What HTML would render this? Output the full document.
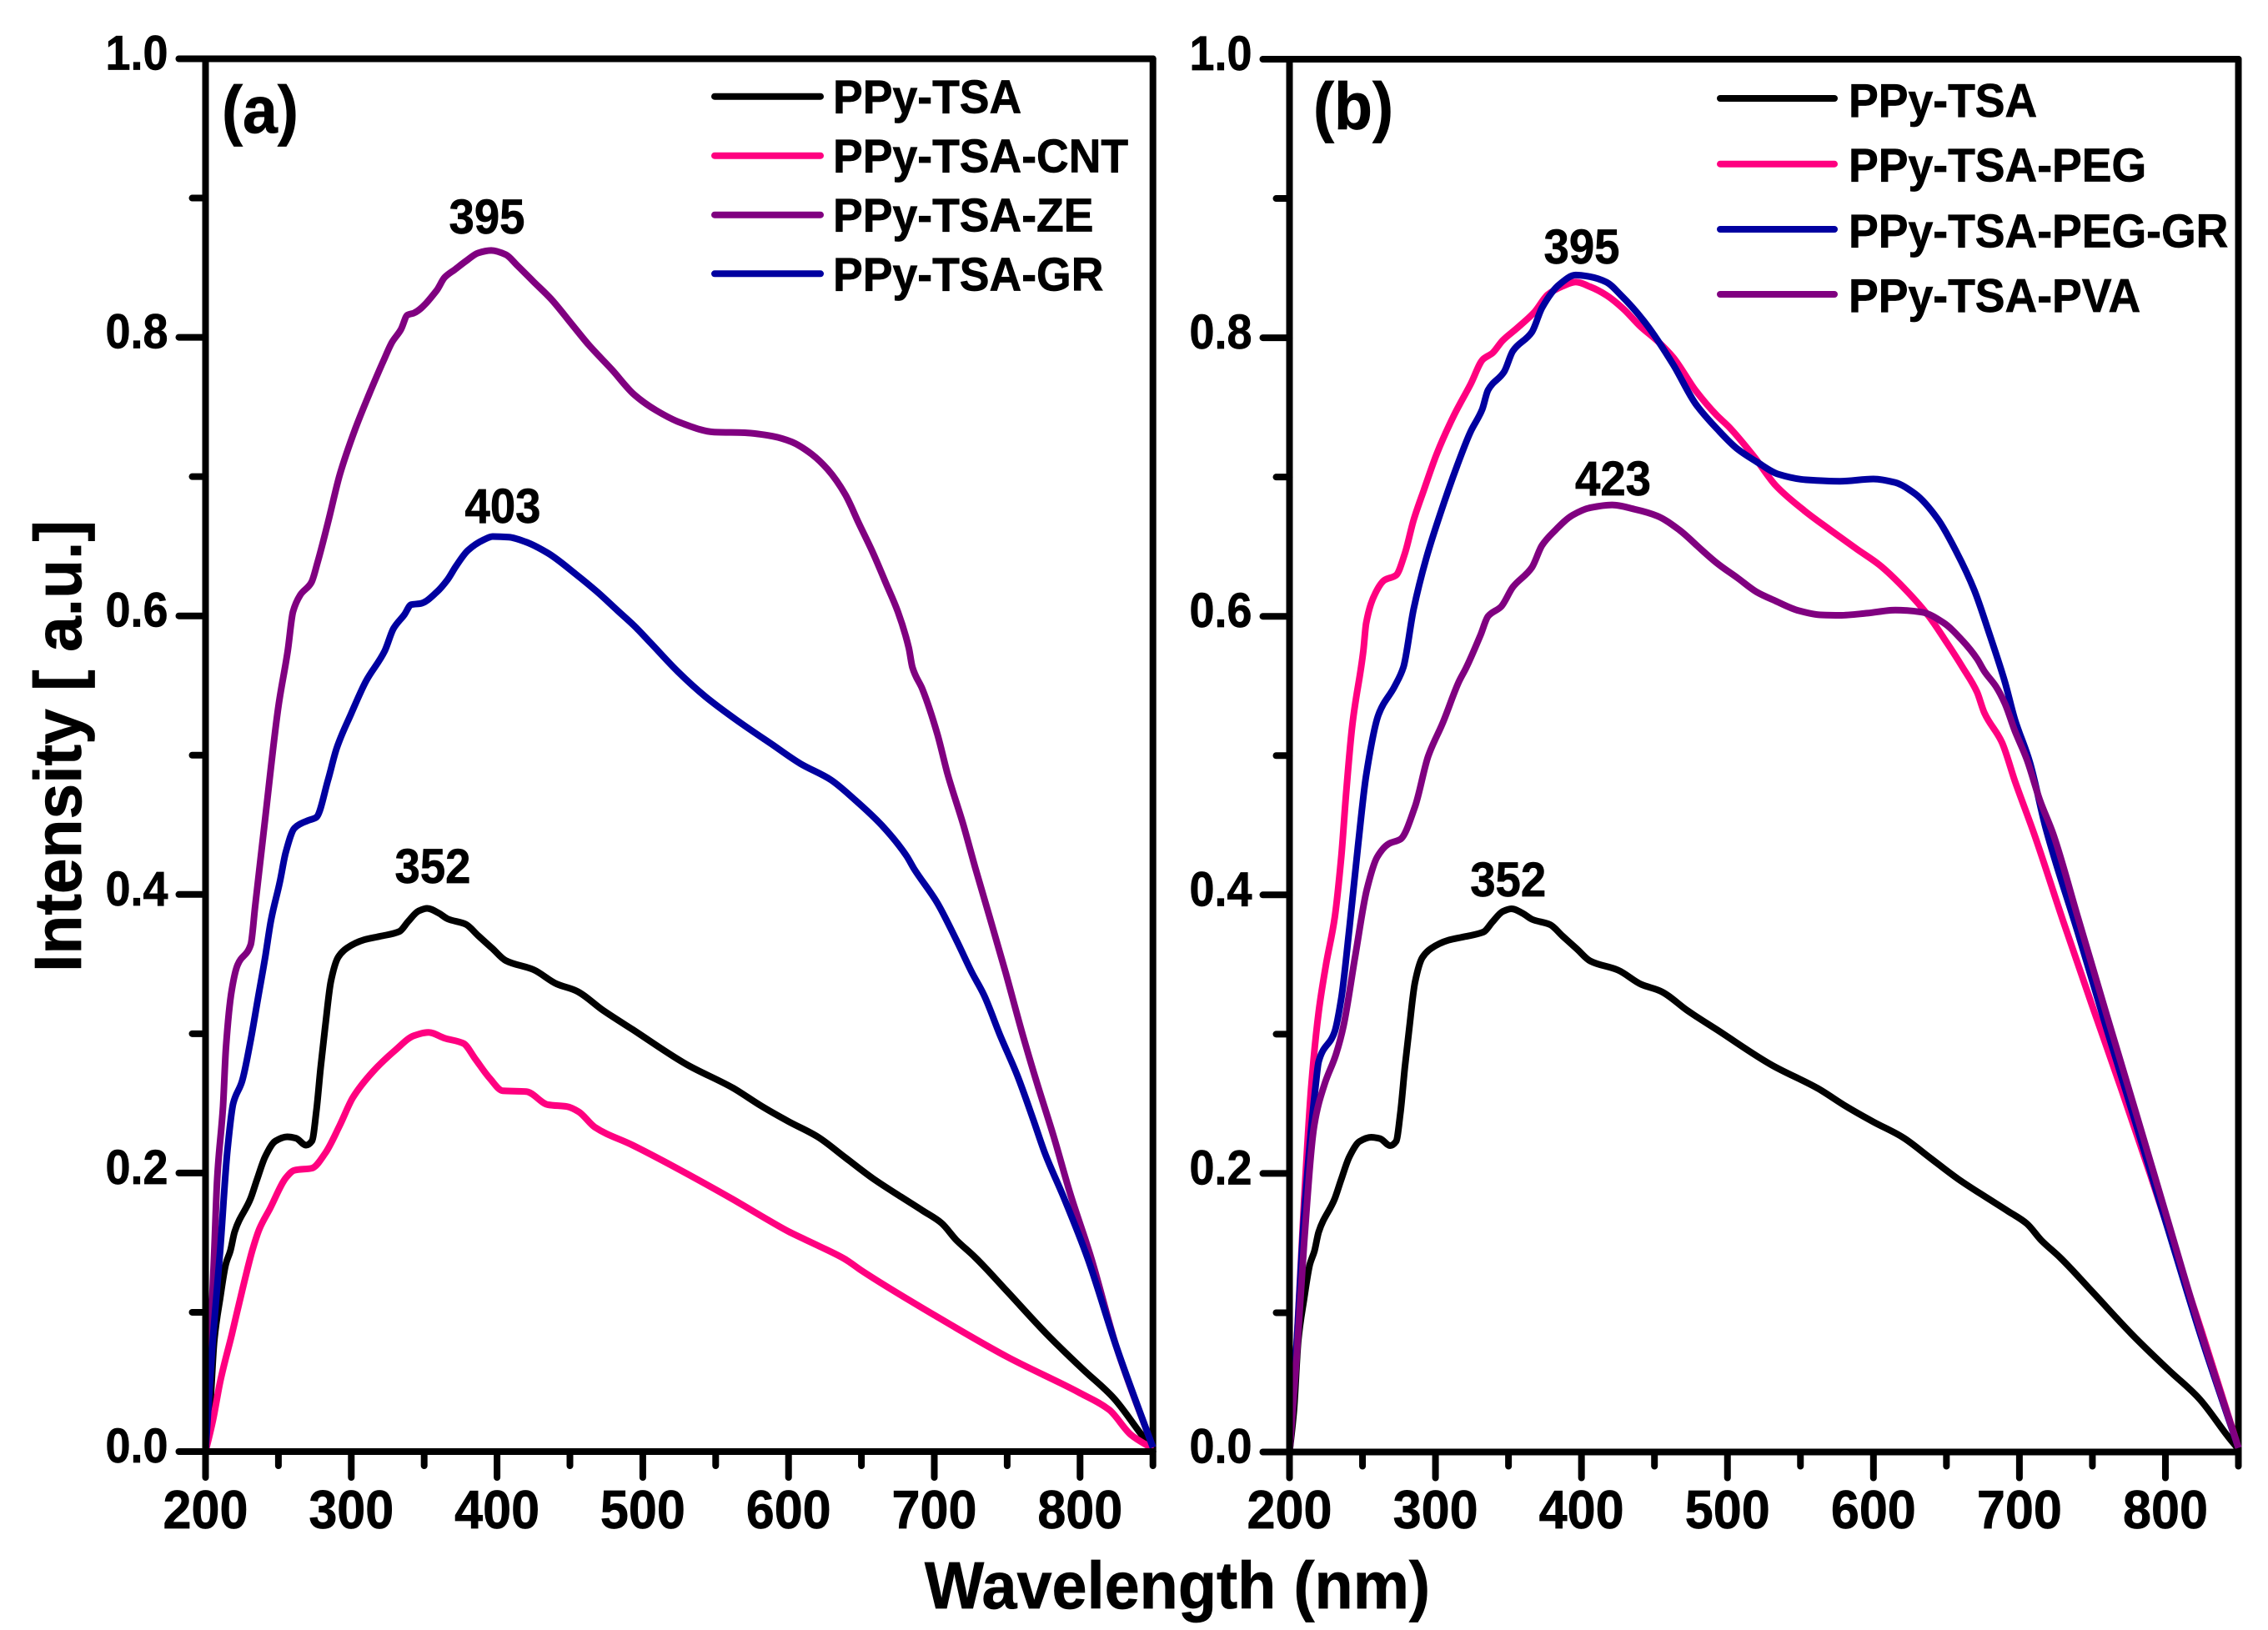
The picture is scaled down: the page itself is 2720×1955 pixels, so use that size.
<!DOCTYPE html>
<html lang="en">
<head>
<meta charset="utf-8">
<title>PPy-TSA intensity spectra</title>
<style>
html,body{margin:0;padding:0;background:#fff;}
svg{display:block;}
text{font-family:"Liberation Sans",Arial,sans-serif;font-weight:bold;fill:#000;stroke:#000;stroke-width:0.7px;}
</style>
</head>
<body>
<svg id="chart" xmlns="http://www.w3.org/2000/svg" width="2720" height="1955" viewBox="0 0 2720 1955"></svg>
<script>
const xTickValues = [200,300,400,500,600,700,800];
const xMinorValues = [250,350,450,550,650,750,850];
const yTickValues = [0.0,0.2,0.4,0.6,0.8,1.0];
const yMinorValues = [0.1,0.3,0.5,0.7,0.9];

const tsaX = [200,203,206,210,214,217,220,231,235.5,241,248,256,262,269,273,276,279,282,286,291,297,309,320,333,339,346,352,360,366,378.5,387,397,406,425,441,454,473,493,530,562,581.5,600,620,639,658,677,692,705,715,728,750,777,802,823,843,850];
const tsaY = [0,.03,.08,.11,.135,.144,.158,.182,.196,.212,.223,.226,.225,.22,.223,.244,.276,.304,.3375,.355,.3615,.3675,.37,.3734,.3806,.388,.39,.3866,.3825,.3786,.3705,.361,.3525,.346,.3357,.331,.3166,.303,.278,.261,.248,.237,.226,.211,.196,.183,.173,.164,.152,.1395,.115,.0845,.059,.0385,.011,.002];

const cntX = [200,205,210,218,225,232,237,244,255.5,261,273,282,292,301,315,330,343,353,364,377,385,395,404,420,435,448,456,467,493,562,581.5,600,620,639,650,700,750,800,820,835,850];
const cntY = [0,.022,.05,.084,.115,.144,.16,.174,.197,.202,.2035,.214,.234,.254,.273,.288,.2986,.301,.2968,.293,.282,.268,.259,.2585,.249,.2477,.244,.233,.22,.181,.169,.158,.148,.138,.13,.098,.068,.042,.03,.012,.002];

const zeX = [200,203,206,208,212,214,218,222,231,234,241,250,256.4,260,265,272.6,277,284,292,303,313,322,328,334,338.5,343,358.5,364,371,379,387,396,406,414,425,437,452,463,479,494,509,526,549,570,589,602,616,627,639,648,658,667,675,682.5,685,692,702,709,720,728,738,749,761,770,782,793,807.5,825,850];
const zeY = [0,.07,.144,.196,.248,.29,.3315,.3495,.364,.391,.4554,.535,.575,.603,.615,.624,.639,.667,.701,.735,.761,.783,.7965,.8055,.816,.8175,.8336,.843,.8486,.855,.8606,.8624,.8594,.8515,.84,.8276,.8085,.7945,.7766,.759,.7477,.7387,.732,.7315,.729,.725,.716,.705,.687,.667,.645,.623,.603,.577,.563,.547,.5155,.487,.4496,.4196,.3837,.3436,.298,.266,.226,.186,.1395,.075,.003];

const grX = [200,205,210,215,219,225,231,236,241,245,251,255,261,270,276,284,290,300,310,323,329,336.5,341,348,358.5,366,372,380,391,397,408,420,435,454,469,482.5,494,505,524,543,564,589,608,629,646,664,681,686,702,715,726,734,745.5,757,768,776,789,805,825,850];
const grY = [0,.08,.144,.216,.25,.2657,.2956,.3255,.3555,.382,.409,.43,.4476,.453,.4554,.482,.505,.53,.553,.575,.591,.601,.608,.609,.617,.626,.636,.647,.6547,.657,.6565,.653,.645,.63,.617,.604,.593,.581,.56,.542,.5255,.5075,.494,.4823,.4675,.4496,.4276,.4186,.394,.3676,.3436,.328,.298,.27,.238,.214,.182,.1395,.075,.003];

const pegX = [200,205,210,215,220,225,231,235.5,239,243,250.6,252.5,259,265,273,279,285,292,301,312.5,324,332.5,339,346,356,368,377,387,396,406,417,429,440,452,463,478,492.5,501,518,533,552.5,570,589,604,623,638,650,661,671,676,688,697,710,730,750,770,790,810,825,850];
const pegY = [0,.08,.18,.264,.316,.35,.384,.428,.4757,.5217,.5755,.595,.617,.626,.6295,.645,.669,.6906,.717,.744,.7666,.7845,.789,.798,.807,.8187,.831,.837,.84,.8366,.8306,.8205,.8085,.7977,.7857,.7624,.7445,.736,.715,.694,.676,.6623,.648,.637,.618,.6,.5815,.5635,.5455,.5306,.5095,.4815,.444,.381,.32,.26,.198,.134,.086,.003];

const peggrX = [200,205,210,218,220,231,235.5,241,247,252.5,261,272,278,285,293.5,303,315,324,332,336,347,353,366,373,385,396,406,417,427,444,463,478,492.5,507,520,535,554,577,600,615,628.5,644,657,669,680,690,697,707,718,740,760,780,800,825,850];
const peggrY = [0,.08,.17,.264,.2804,.302,.326,.376,.436,.4857,.5295,.5497,.5635,.605,.641,.6727,.7086,.7325,.7486,.7624,.7756,.7905,.804,.8216,.8384,.845,.8438,.84,.8306,.8103,.7804,.7528,.735,.72,.711,.702,.698,.697,.6986,.696,.688,.67,.646,.619,.5855,.553,.5256,.4957,.448,.373,.303,.235,.166,.081,.003];

const pvaX = [200,205,210,217,224,232,237,245,253,260,268,276,286,295,305,316,321,331,336,345,353,366,373,381,394,406,421,436,452,467,482,493,507,520,533,549,564,577,596,615,633,648,661,671,676,684,690,697,705,714,723,740,760,780,800,825,850];
const pvaY = [0,.07,.15,.235,.264,.286,.306,.356,.404,.427,.4367,.44,.4635,.4995,.5235,.553,.563,.587,.6,.607,.621,.635,.651,.6607,.6727,.678,.68,.677,.672,.662,.648,.638,.6275,.6175,.611,.604,.601,.6007,.6023,.6045,.603,.5954,.5825,.5695,.5605,.5495,.5375,.5175,.4975,.468,.444,.384,.313,.243,.172,.084,.003];

const legendNamesA = ["PPy-TSA","PPy-TSA-CNT","PPy-TSA-ZE","PPy-TSA-GR"];
const legendNamesB = ["PPy-TSA","PPy-TSA-PEG","PPy-TSA-PEG-GR","PPy-TSA-PVA"];
const peakLabelsA = ["395","403","352"];
const peakLabelsB = ["395","423","352"];

const BLACK = "#000000", PINK = "#ff0080", PURPLE = "#800080", BLUE = "#0000a0";
const panelA = {x0:246.5, x1:1382.7, y0:1741, y1:70.5};
const panelB = {x0:1546.5, x1:2684.5, y0:1741.5, y1:71};
const NS = "http://www.w3.org/2000/svg";
const svg = document.getElementById("chart");

function sx(p, nm){ return p.x0 + (nm - 200) * (p.x1 - p.x0) / 650; }
function sy(p, v){ return p.y0 - v * (p.y0 - p.y1); }

function line(name, x1, y1, x2, y2, color, w){
  const el = document.createElementNS(NS, "line");
  
  
  el.setAttribute("x1", x1); el.setAttribute("y1", y1);
  el.setAttribute("x2", x2); el.setAttribute("y2", y2);
  el.setAttribute("stroke", color);
  el.setAttribute("stroke-width", w);
  el.setAttribute("stroke-linecap", "round");
  svg.appendChild(el);
}

function label(name, str, x, y, size, anchor, sqz, rot){
  const el = document.createElementNS(NS, "text");
  
  
  el.setAttribute("font-size", size);
  el.setAttribute("text-anchor", anchor);
  el.setAttribute("transform", "translate(" + x + "," + y + ")" + (rot ? " rotate(" + rot + ")" : "") + " scale(" + sqz + ",1)");
  el.textContent = str;
  svg.appendChild(el);
}

/* Monotone cubic path through the scaled data points, so no overshoot at the shoulders. */
function smoothPath(px, py){
  const n = px.length, d = [], m = [];
  for (let i = 0; i < n - 1; i++) d.push((py[i + 1] - py[i]) / (px[i + 1] - px[i]));
  m.push(d[0]);
  for (let i = 1; i < n - 1; i++) {
    if (d[i - 1] * d[i] <= 0) { m.push(0); continue; }
    const h0 = px[i] - px[i - 1], h1 = px[i + 1] - px[i];
    const w1 = 2 * h1 + h0, w2 = h1 + 2 * h0;
    m.push((w1 + w2) / (w1 / d[i - 1] + w2 / d[i]));
  }
  m.push(d[n - 2]);
  let s = "M" + px[0].toFixed(1) + "," + py[0].toFixed(1);
  for (let i = 0; i < n - 1; i++) {
    const h = (px[i + 1] - px[i]) / 3;
    s += "C" + (px[i] + h).toFixed(1) + "," + (py[i] + m[i] * h).toFixed(1) + " " +
         (px[i + 1] - h).toFixed(1) + "," + (py[i + 1] - m[i + 1] * h).toFixed(1) + " " +
         px[i + 1].toFixed(1) + "," + py[i + 1].toFixed(1);
  }
  return s;
}

function curve(name, p, xs, ys, color){
  const el = document.createElementNS(NS, "path");
  
  
  const px = xs.map(function(nm){ return sx(p, nm); });
  const py = ys.map(function(v){ return sy(p, v); });
  el.setAttribute("d", smoothPath(px, py));
  el.setAttribute("fill", "none");
  el.setAttribute("stroke", color);
  el.setAttribute("stroke-width", 8);
  el.setAttribute("stroke-linejoin", "round");
  svg.appendChild(el);
}

function drawAxes(p, tag){
  xTickValues.forEach(function(t){
    line(tag + "-x-major-tick-" + t, sx(p,t), p.y0, sx(p,t), p.y0 + 31, BLACK, 8);
    label(tag + "-x-tick-label-" + t, String(t), sx(p,t), 1833, 65, "middle", 0.94);
  });
  xMinorValues.forEach(function(t){
    line(tag + "-x-minor-tick-" + t, sx(p,t), p.y0, sx(p,t), p.y0 + 17, BLACK, 8);
  });
  yTickValues.forEach(function(t){
    line(tag + "-y-major-tick-" + t.toFixed(1), p.x0 - 32, sy(p,t), p.x0, sy(p,t), BLACK, 8);
    label(tag + "-y-tick-label-" + t.toFixed(1), t.toFixed(1), p.x0 - 45, sy(p,t) + 13, 58, "end", 0.93);
  });
  yMinorValues.forEach(function(t){
    line(tag + "-y-minor-tick-" + t.toFixed(1), p.x0 - 16, sy(p,t), p.x0, sy(p,t), BLACK, 8);
  });
  line(tag + "-axis-top", p.x0, p.y1, p.x1, p.y1, BLACK, 8);
  line(tag + "-axis-right", p.x1, p.y1, p.x1, p.y0, BLACK, 8);
}

function frameOver(p, tag){
  line(tag + "-axis-left", p.x0, p.y1, p.x0, p.y0, BLACK, 8);
  line(tag + "-axis-bottom", p.x0, p.y0, p.x1, p.y0, BLACK, 8);
}

function legendRow(tag, i, str, color, lineX1, lineX2, lineY, textX, textY){
  line(tag + "-legend-line-" + (i + 1), lineX1, lineY, lineX2, lineY, color, 8);
  label(tag + "-legend-label-" + (i + 1), str, textX, textY, 57, "start", 0.94);
}

/* Panel (a) */
drawAxes(panelA, "panel-a");
curve("panel-a-series-ppy-tsa", panelA, tsaX, tsaY, BLACK);
curve("panel-a-series-ppy-tsa-cnt", panelA, cntX, cntY, PINK);
curve("panel-a-series-ppy-tsa-ze", panelA, zeX, zeY, PURPLE);
curve("panel-a-series-ppy-tsa-gr", panelA, grX, grY, BLUE);
frameOver(panelA, "panel-a");
label("panel-a-title", "(a)", 266, 159, 80, "start", 0.94);
legendRow("panel-a", 0, legendNamesA[0], BLACK, 857, 984, 115.7, 999, 135.7);
legendRow("panel-a", 1, legendNamesA[1], PINK, 857, 984, 186.7, 999, 206.7);
legendRow("panel-a", 2, legendNamesA[2], PURPLE, 857, 984, 257.7, 999, 277.7);
legendRow("panel-a", 3, legendNamesA[3], BLUE, 857, 984, 328.3, 999, 348.7);
label("panel-a-peak-label-ze", peakLabelsA[0], 584, 280, 58, "middle", 0.94);
label("panel-a-peak-label-gr", peakLabelsA[1], 603, 627, 58, "middle", 0.94);
label("panel-a-peak-label-tsa", peakLabelsA[2], 519, 1059, 58, "middle", 0.94);

/* Panel (b) */
drawAxes(panelB, "panel-b");
curve("panel-b-series-ppy-tsa", panelB, tsaX, tsaY, BLACK);
curve("panel-b-series-ppy-tsa-peg", panelB, pegX, pegY, PINK);
curve("panel-b-series-ppy-tsa-peg-gr", panelB, peggrX, peggrY, BLUE);
curve("panel-b-series-ppy-tsa-pva", panelB, pvaX, pvaY, PURPLE);
frameOver(panelB, "panel-b");
label("panel-b-title", "(b)", 1575, 155, 80, "start", 0.94);
legendRow("panel-b", 0, legendNamesB[0], BLACK, 2063, 2200, 118, 2217, 140);
legendRow("panel-b", 1, legendNamesB[1], PINK, 2063, 2200, 196.7, 2217, 217.7);
legendRow("panel-b", 2, legendNamesB[2], BLUE, 2063, 2200, 275, 2217, 296.7);
legendRow("panel-b", 3, legendNamesB[3], PURPLE, 2063, 2200, 353, 2217, 374);
label("panel-b-peak-label-peg", peakLabelsB[0], 1897, 316, 58, "middle", 0.94);
label("panel-b-peak-label-pva", peakLabelsB[1], 1934.5, 594, 58, "middle", 0.94);
label("panel-b-peak-label-tsa", peakLabelsB[2], 1808.7, 1075, 58, "middle", 0.94);

/* Shared axis titles */
label("y-axis-title", "Intensity [ a.u.]", 97, 895, 80, "middle", 0.96, -90);
label("x-axis-title", "Wavelength (nm)", 1412, 1929, 80, "middle", 0.945);
</script>
</body>
</html>
